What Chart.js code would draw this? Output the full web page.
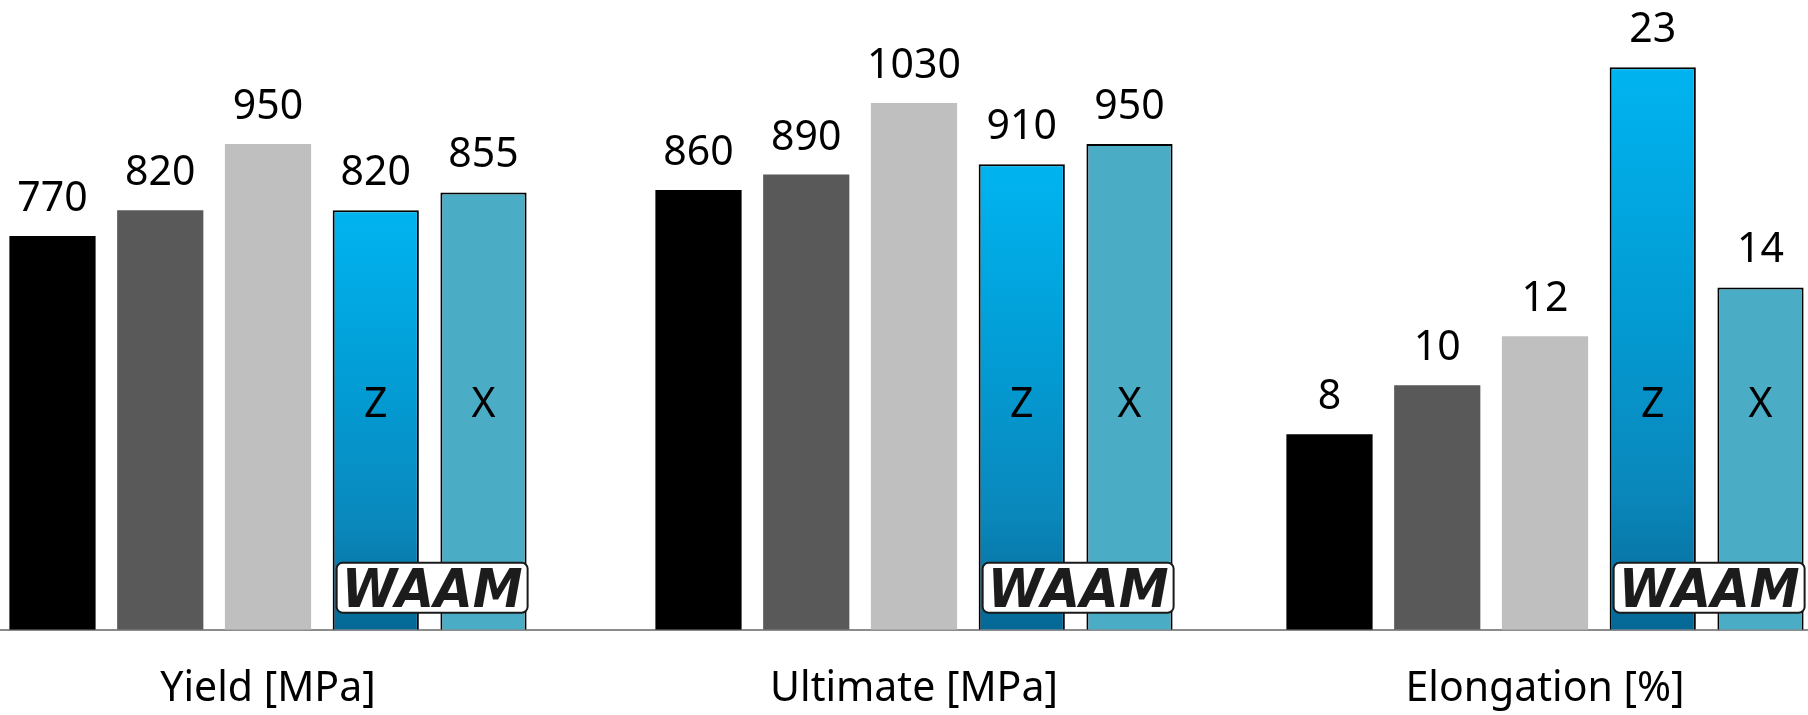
<!DOCTYPE html>
<html>
<head>
<meta charset="utf-8">
<script src="https://cdn.jsdelivr.net/npm/chart.js@4.4.1/dist/chart.umd.min.js"></script>
<style>
  html, body { margin: 0; padding: 0; background: #ffffff; overflow: hidden; width: 1808px; height: 715px; }
  body { position: relative; }
  canvas { position: absolute; top: 0; }
  #strength { left: -55px; }
  #ductility { left: 1222px; }
</style>
</head>
<body>
<canvas id="strength" width="1292" height="751"></canvas>
<canvas id="ductility" width="646" height="751"></canvas>
<script>
// Strength categories (MPa) and elongation category (%)
const strengthCategories = ['Yield [MPa]', 'Ultimate [MPa]'];
const ductilityCategories = ['Elongation [%]'];

// Strength values per series: [yield, ultimate]
const blackMpa = [770, 860];
const darkGrayMpa = [820, 890];
const lightGrayMpa = [950, 1030];
const waamZMpa = [820, 910];
const waamXMpa = [855, 950];

// Elongation values per series
const blackPct = [8];
const darkGrayPct = [10];
const lightGrayPct = [12];
const waamZPct = [23];
const waamXPct = [14];

// Letters printed inside the WAAM bars
const waamLetters = ['Z', 'X'];

const FONT = '"Noto Sans", "Open Sans", sans-serif';

function waamGradient(ctx) {
  if (ctx.type !== 'data') return '#00B0F0';
  const chart = ctx.chart;
  const y = chart.scales.y;
  const top = y.getPixelForValue(ctx.raw);
  const bottom = y.getPixelForValue(0);
  if (!isFinite(top) || !isFinite(bottom) || top === bottom) return '#00B0F0';
  const g = chart.ctx.createLinearGradient(0, top, 0, bottom);
  g.addColorStop(0, '#00B4F0');
  g.addColorStop(0.45, '#039AD2');
  g.addColorStop(0.75, '#0A88BC');
  g.addColorStop(1, '#056895');
  return g;
}

function makeDatasets(black, darkGray, lightGray, z, x) {
  return [
    { label: 'black', data: black, backgroundColor: '#000000', borderWidth: 0 },
    { label: 'darkGray', data: darkGray, backgroundColor: '#595959', borderWidth: 0 },
    { label: 'lightGray', data: lightGray, backgroundColor: '#BFBFBF', borderWidth: 0 },
    { label: 'Z', data: z, backgroundColor: waamGradient, borderColor: '#000000', borderWidth: 2 },
    { label: 'X', data: x, backgroundColor: '#4BACC6', borderColor: '#000000', borderWidth: 2 }
  ];
}

// Value labels, Z/X letters and the WAAM badge drawn over the bars
const barAnnotations = {
  id: 'barAnnotations',
  afterDatasetsDraw(chart) {
    const ctx = chart.ctx;
    const base = chart.scales.y.getPixelForValue(0);
    ctx.save();
    ctx.fillStyle = '#000000';
    ctx.textAlign = 'center';
    ctx.textBaseline = 'alphabetic';
    ctx.font = '41px ' + FONT;
    chart.data.datasets.forEach((ds, di) => {
      const meta = chart.getDatasetMeta(di);
      meta.data.forEach((el, i) => {
        const v = ds.data[i];
        if (v === null || v === undefined) return;
        ctx.fillText(String(v), el.x, el.y - 25);
      });
    });
    // letters inside the two WAAM bars
    [3, 4].forEach((di, k) => {
      const meta = chart.getDatasetMeta(di);
      meta.data.forEach((el) => {
        ctx.fillText(waamLetters[k], el.x, base - 213);
      });
    });
    // WAAM badge across the two WAAM bars
    const zMeta = chart.getDatasetMeta(3);
    const xMeta = chart.getDatasetMeta(4);
    zMeta.data.forEach((zEl, i) => {
      const xEl = xMeta.data[i];
      const x0 = zEl.x - zEl.width / 2 + 4;
      const x1 = xEl.x + xEl.width / 2 + 1;
      const y0 = base - 67;
      const h = 50;
      const w = x1 - x0;
      ctx.beginPath();
      ctx.roundRect(x0, y0, w, h, 6);
      ctx.fillStyle = '#ffffff';
      ctx.fill();
      ctx.lineWidth = 2;
      ctx.strokeStyle = '#1a1a1a';
      ctx.stroke();
      ctx.save();
      ctx.font = 'italic 900 54px "DejaVu Sans", sans-serif';
      const tw = ctx.measureText('WAAM').width;
      const target = w - 10;
      ctx.translate(x0 + w / 2, y0 + h - 6);
      ctx.scale(target / tw, 1);
      ctx.fillStyle = '#1c1c1c';
      ctx.textAlign = 'center';
      ctx.fillText('WAAM', 0, 0);
      ctx.restore();
    });
    ctx.restore();
  }
};

function makeOptions(yMax) {
  return {
    responsive: false,
    animation: false,
    devicePixelRatio: 1,
    layout: { padding: { top: 16, bottom: 2, left: 0, right: 0 } },
    datasets: { bar: { categoryPercentage: 0.834, barPercentage: 0.8 } },
    plugins: { legend: { display: false }, tooltip: { enabled: false } },
    scales: {
      x: {
        grid: { display: false, drawTicks: false },
        border: { display: true, color: '#8C8C8C', width: 2 },
        ticks: { color: '#000000', padding: 35, font: { family: FONT, size: 41 } }
      },
      y: { display: false, min: 0, max: yMax }
    }
  };
}

new Chart(document.getElementById('strength'), {
  type: 'bar',
  data: { labels: strengthCategories, datasets: makeDatasets(blackMpa, darkGrayMpa, lightGrayMpa, waamZMpa, waamXMpa) },
  options: makeOptions(1200),
  plugins: [barAnnotations]
});

new Chart(document.getElementById('ductility'), {
  type: 'bar',
  data: { labels: ductilityCategories, datasets: makeDatasets(blackPct, darkGrayPct, lightGrayPct, waamZPct, waamXPct) },
  options: makeOptions(25.1),
  plugins: [barAnnotations]
});
</script>
</body>
</html>
